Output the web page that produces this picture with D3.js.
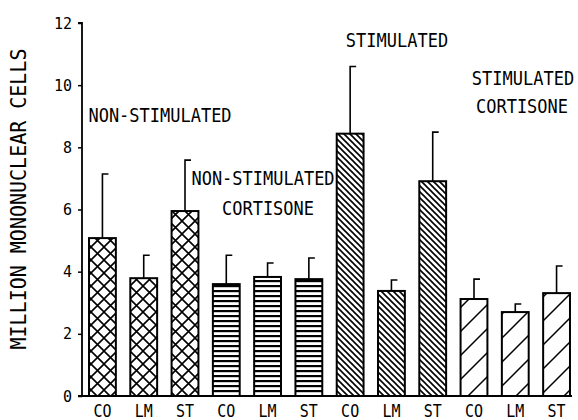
<!DOCTYPE html>
<html><head><meta charset="utf-8">
<script src="https://cdn.jsdelivr.net/npm/d3@7"></script>
<style>
html,body{margin:0;padding:0;background:#fff;}
svg{display:block;}
text{font-family:"DejaVu Sans Mono","Liberation Mono",monospace;fill:#000;}
</style></head>
<body>
<svg id="chart" width="578" height="420"></svg>
<script>
// ---- data ----
const categories = ["CO","LM","ST","CO","LM","ST","CO","LM","ST","CO","LM","ST"];
const groupIndex = [0,0,0,1,1,1,2,2,2,3,3,3];
const groupNames = ["NON-STIMULATED", "NON-STIMULATED CORTISONE", "STIMULATED", "STIMULATED CORTISONE"];
const means = [5.08,3.79,5.95, 3.60,3.83,3.76, 8.44,3.38,6.91, 3.12,2.70,3.31];
const errors = [2.06,0.74,1.64, 0.93,0.45,0.68, 2.16,0.35,1.58, 0.64,0.26,0.87];
const yTicks = [0,2,4,6,8,10,12];
const yTitle = "MILLION MONONUCLEAR CELLS";

// ---- layout ----
const svg = d3.select("#chart");
const x0 = 82, yBase = 396, yTop = 23;
const x = d3.scaleBand().domain(d3.range(categories.length))
  .range([x0, 577]).paddingInner(0.35).paddingOuter(0.17);
const y = d3.scaleLinear().domain([0,12]).range([yBase, yTop]);

// patterns
const defs = svg.append("defs");
const pats = [
  {id:"p0", w:13, h:13, d:"M0,0L13,13M13,0L0,13", sw:1.6},
  {id:"p1", w:5, h:5, rect:true},
  {id:"p2", w:6, h:6, d:"M0,0L6,6M-1,5L1,7M5,-1L7,1", sw:1.6},
  {id:"p3", w:24, h:24, d:"M0,24L24,0M-2,2L2,-2M22,26L26,22", sw:1.5}
];
pats.forEach(p => {
  const pt = defs.append("pattern").attr("id", p.id)
    .attr("patternUnits","userSpaceOnUse").attr("width", p.w).attr("height", p.h);
  pt.append("rect").attr("width", p.w).attr("height", p.h).attr("fill","#fff");
  if (p.rect) pt.append("rect").attr("x",0).attr("y",0).attr("width",p.w).attr("height",2.2).attr("fill","#000");
  else pt.append("path").attr("d", p.d).attr("stroke","#000").attr("stroke-width", p.sw).attr("fill","none");
});

// y axis
const yAxis = d3.axisLeft(y).tickValues(yTicks).tickSize(4).tickPadding(6).tickFormat(d3.format("d"));
const ga = svg.append("g").attr("transform", `translate(${x0},0)`).call(yAxis);
ga.select(".domain").attr("stroke","#000").attr("stroke-width",1.8).attr("d", `M-4,${yTop}H0V${yBase}`);
ga.selectAll(".tick line").attr("stroke","#000").attr("stroke-width",1.5);
ga.selectAll(".tick text").attr("font-size",15).attr("font-family","DejaVu Sans Mono")
  .attr("fill","#000").attr("transform","scale(1,1.12)")
  .attr("y", function(d){ return 0; })
  .attr("dy","0.32em");
ga.selectAll(".tick").each(function(d){
  const t = d3.select(this).select("text");
  t.attr("transform", null).attr("dy", null).attr("y", 5);
});

// bars
const bars = svg.append("g");
means.forEach((m,i) => {
  bars.append("rect")
    .attr("x", x(i)).attr("width", x.bandwidth())
    .attr("y", y(m)).attr("height", y(0) - y(m))
    .attr("fill", `url(#p${groupIndex[i]})`)
    .attr("stroke","#000").attr("stroke-width",2);
  const cx = x(i) + x.bandwidth()/2;
  bars.append("path")
    .attr("d", `M${cx},${y(m)}V${y(m+errors[i])}h6`)
    .attr("fill","none").attr("stroke","#000").attr("stroke-width",1.6);
});

// baseline
svg.append("line").attr("x1", x0-4).attr("x2", 572).attr("y1", yBase).attr("y2", yBase)
  .attr("stroke","#000").attr("stroke-width",2);

// x category labels
svg.append("g").selectAll("text").data(categories).join("text")
  .attr("text-anchor","middle").attr("font-size",15)
  .attr("transform",(d,i)=>`translate(${x(i)+x.bandwidth()/2},417) scale(1,1.15)`)
  .text(d=>d);

// group labels (layout positions)
const labelLayout = [
  [{t:0, line:"NON-STIMULATED", x:160, y:122}],
  [{t:1, line:"NON-STIMULATED", x:263, y:185},{t:1, line:"CORTISONE", x:268, y:215}],
  [{t:2, line:"STIMULATED", x:397, y:47}],
  [{t:3, line:"STIMULATED", x:523, y:85},{t:3, line:"CORTISONE", x:522, y:113}]
];
labelLayout.forEach(lines => lines.forEach(l => {
  svg.append("text").attr("text-anchor","middle").attr("font-size",17)
    .attr("transform",`translate(${l.x},${l.y}) scale(1,1.12)`).text(l.line);
}));

// y title
svg.append("text").attr("text-anchor","middle").attr("font-size",20)
  .attr("transform","translate(26,199) rotate(-90) scale(1,1.1)").text(yTitle);
</script>
</body></html>
